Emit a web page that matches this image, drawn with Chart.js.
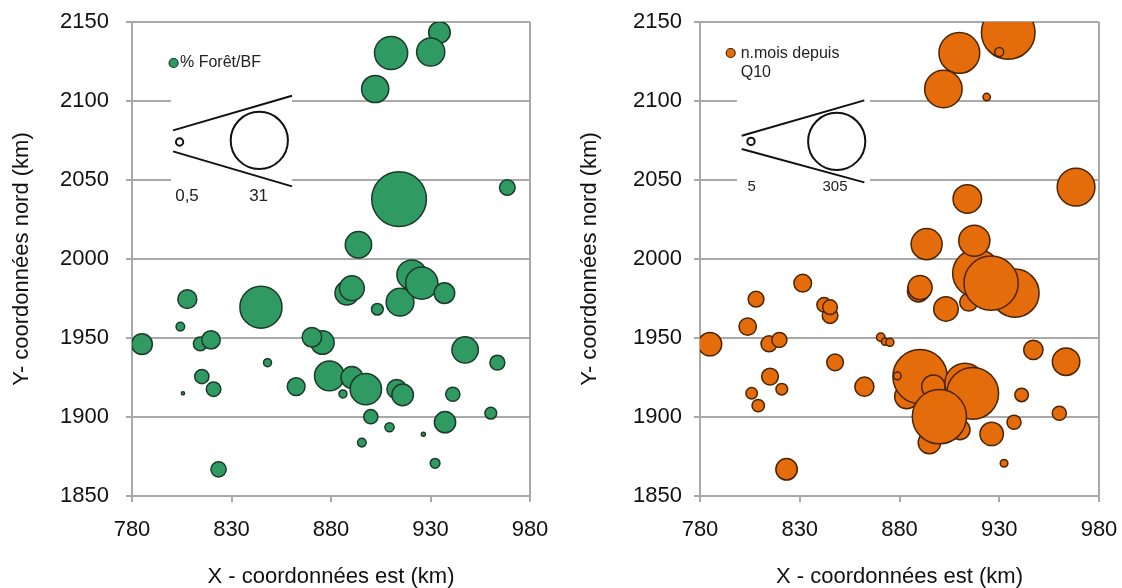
<!DOCTYPE html>
<html lang="fr">
<head>
  <meta charset="UTF-8" />
  <title>Stations : forêt et mois depuis Q10</title>
  <script src="https://cdn.jsdelivr.net/npm/chart.js"></script>
  <style>
    body {
      margin: 0;
      background: #ffffff;
      font-family: 'Liberation Sans', Arial, sans-serif;
    }
    .wrap {
      position: relative;
      width: 1122px;
      height: 588px;
    }
    canvas {
      position: absolute;
      top: 0;
    }
    #foretChart { left: 0; }
    #q10Chart { left: 561px; }
  </style>
</head>
<body>
  <div class="wrap">
    <canvas id="foretChart" width="561" height="588"></canvas>
    <canvas id="q10Chart" width="561" height="588"></canvas>
  </div>

  <script>
    // axes
    const xTicks = [780, 830, 880, 930, 980];
    const yTicks = [1850, 1900, 1950, 2000, 2050, 2100, 2150];

    // stations, % forêt du bassin (BF)
    const foretX = [934.5, 910.2, 930.1, 902.2, 914.2, 968.6, 893.8, 785, 807.8, 804.3, 814.3, 819.7, 815.1, 821, 805.6,
      823.5, 844.8, 848.1, 862.5, 875.7, 870.4, 879.2, 890.5, 897.5, 886, 888, 890.5, 900, 895.5, 903.3, 909.4,
      914.7, 920.6, 925.6, 937, 913, 916, 926.4, 932.3, 937.3, 941.2, 947.4, 963.6, 960.3];
    const foretY = [2143.4, 2130.4, 2131, 2107.6, 2037.9, 2045.2, 2009, 1946.1, 1974.6, 1957.2, 1946.3, 1948.8, 1925.6,
      1917.6, 1915, 1866.9, 1969.5, 1934.4, 1919.2, 1947.1, 1950.5, 1926, 1925, 1917.6, 1914.6, 1978.5, 1981.5,
      1900.2, 1883.8, 1968.2, 1893.5, 1972.7, 1990, 1984.7, 1978.4, 1917.6, 1914, 1889.1, 1870.7, 1896.7, 1914.4,
      1942.5, 1934.4, 1902.4];
    const foretPct = [4.4, 10.4, 7.5, 7.0, 28.3, 2.3, 6.6, 4.1, 3.4, 0.7, 1.8, 3.2, 1.9, 2.0, 0.1, 2.2, 16.8, 0.6, 3.0,
      5.2, 3.6, 8.4, 4.5, 9.3, 0.6, 5.4, 5.8, 1.9, 0.7, 1.3, 0.8, 7.3, 8.4, 9.8, 4.0, 3.6, 4.4, 0.15, 0.9, 4.3, 1.9,
      6.6, 2.1, 1.3];
    const foretKeys = [0.5, 31];
    const foretKeyText = ['0,5', '31'];

    // stations, nombre de mois depuis le Q10
    const q10X = [934.5, 930, 910, 902, 923.7, 968.5, 914, 893.6, 785, 808.1, 803.9, 814.6, 819.8, 815.1, 821, 805.9,
      809.2, 823.4, 831.5, 842.2, 845.2, 845.2, 847.7, 862.4, 870.6, 872.7, 875.2, 883.6, 890.3, 878.9, 897, 912.8,
      916.7, 895, 910.3, 900, 889.5, 890.3, 903.3, 914.7, 918.7, 937.9, 925.9, 917.5, 947.1, 963.5, 960.1, 941.2,
      937.4, 926.2, 932.4];
    const q10Y = [2143.4, 2131, 2130.4, 2107.6, 2102.5, 2045.5, 2038, 2009.4, 1946.1, 1974.6, 1957.2, 1946.3, 1948.8,
      1925.6, 1917.6, 1915, 1907.2, 1866.9, 1984.7, 1971, 1964.2, 1969.5, 1934.6, 1919.2, 1950.5, 1947.7, 1947.3,
      1912.9, 1925.6, 1926, 1919.2, 1921.4, 1915, 1883.8, 1892, 1900.2, 1979.8, 1981.9, 1968.4, 1972.7, 1991,
      1978.4, 1984.7, 2011.5, 1942.5, 1935, 1902.4, 1914, 1896.7, 1889.3, 1870.7];
    const q10Mois = [268, 7.6, 155, 131, 5.1, 133, 76, 90, 51, 23, 28, 24, 21, 26, 12.6, 12.2, 14.4, 43, 29, 19.5,
      22.8, 20, 26, 34, 6.6, 4.6, 6, 54, 274, 5.4, 51, 150, 250, 47, 37.5, 274, 45, 54, 56, 30, 216, 216, 274, 90,
      35, 70, 18.4, 17, 18.4, 51, 5.4];
    const q10Keys = [5, 305];
    const q10KeyText = ['5', '305'];

    const FONT = "'Liberation Sans', Arial, sans-serif";
    const GRID = '#a9a9a9';
    const MAX_R = 28.6;

    // bubble area proportional to the value, largest key value -> MAX_R
    function radius(v, vmax) {
      return MAX_R * Math.sqrt(v / vmax);
    }

    function points(xs, ys, vals, vmax) {
      return xs.map((x, i) => ({ x: x, y: ys[i], r: radius(vals[i], vmax) }));
    }

    // size key drawn inside the plot: series marker, cone and two reference circles
    const sizeKey = {
      id: 'sizeKey',
      afterDatasetsDraw(chart, args, o) {
        const ctx = chart.ctx;
        const L = chart.chartArea.left, T = chart.chartArea.top;
        ctx.save();

        ctx.fillStyle = '#ffffff';
        ctx.fillRect(L + o.box[0], T + o.box[1], o.box[2], o.box[3]);

        ctx.beginPath();
        ctx.arc(L + o.marker[0], T + o.marker[1], 4.5, 0, Math.PI * 2);
        ctx.fillStyle = o.fill;
        ctx.fill();
        ctx.lineWidth = 1.2;
        ctx.strokeStyle = o.edge;
        ctx.stroke();

        ctx.fillStyle = '#222';
        ctx.font = '16px ' + FONT;
        ctx.textAlign = 'left';
        ctx.textBaseline = 'middle';
        o.name.forEach((line, i) => ctx.fillText(line, L + o.nameAt[0], T + o.nameAt[1] + i * 19));

        ctx.strokeStyle = '#111';
        ctx.lineWidth = 2;
        o.cone.forEach(s => {
          ctx.beginPath();
          ctx.moveTo(L + s[0], T + s[1]);
          ctx.lineTo(L + s[2], T + s[3]);
          ctx.stroke();
        });

        const vmax = o.keys[o.keys.length - 1];
        o.keys.forEach((v, i) => {
          ctx.beginPath();
          ctx.arc(L + o.circleAt[i][0], T + o.circleAt[i][1], radius(v, vmax), 0, Math.PI * 2);
          ctx.fillStyle = '#ffffff';
          ctx.fill();
          ctx.strokeStyle = '#111';
          ctx.lineWidth = 2;
          ctx.stroke();
          ctx.fillStyle = '#222';
          ctx.font = o.keyFont + 'px ' + FONT;
          ctx.textAlign = 'center';
          ctx.fillText(o.keyText[i], L + o.labelX[i], T + o.labelY);
        });
        ctx.restore();
      }
    };

    function makeChart(id, data, fill, edge, frame, key) {
      return new Chart(document.getElementById(id), {
        type: 'bubble',
        data: {
          datasets: [{
            data: data,
            backgroundColor: fill,
            borderColor: edge,
            borderWidth: 1.5,
            clip: 0
          }]
        },
        plugins: [sizeKey],
        options: {
          responsive: false,
          animation: false,
          events: [],
          layout: {
            autoPadding: false,
            padding: { left: 0, right: frame.right, top: 22, bottom: 0 }
          },
          plugins: {
            legend: { display: false },
            tooltip: { enabled: false },
            sizeKey: Object.assign({ fill: fill, edge: edge }, key)
          },
          scales: {
            x: {
              type: 'linear',
              min: xTicks[0],
              max: xTicks[xTicks.length - 1],
              afterBuildTicks: s => { s.ticks = xTicks.map(v => ({ value: v })); },
              afterFit: s => {
                s.height = 92;
                s.paddingLeft = 0;
                s.paddingRight = 0;
              },
              grid: {
                color: c => (c.tick && c.tick.value === 980) ? GRID : 'rgba(0,0,0,0)',
                lineWidth: 2,
                tickColor: GRID,
                tickLength: 6
              },
              border: { color: GRID, width: 2 },
              ticks: {
                font: { family: FONT, size: 22 },
                color: '#111',
                padding: 15,
                maxRotation: 0,
                callback: v => String(v)
              },
              title: {
                display: true,
                text: 'X - coordonnées est (km)',
                font: { family: FONT, size: 22, lineHeight: 1 },
                color: '#111',
                padding: 0
              }
            },
            y: {
              type: 'linear',
              min: yTicks[0],
              max: yTicks[yTicks.length - 1],
              afterBuildTicks: s => { s.ticks = yTicks.map(v => ({ value: v })); },
              afterFit: s => {
                s.width = frame.yWidth;
                s.paddingTop = 0;
                s.paddingBottom = 0;
              },
              grid: { color: GRID, lineWidth: 2, tickColor: GRID, tickLength: 6 },
              border: { color: GRID, width: 2 },
              ticks: {
                font: { family: FONT, size: 22 },
                color: '#111',
                padding: frame.yLabelPad,
                callback: v => String(v)
              },
              title: {
                display: true,
                text: 'Y- coordonnées nord (km)',
                font: { family: FONT, size: 22, lineHeight: 1 },
                color: '#111',
                padding: { top: frame.yTitlePad, bottom: 0 }
              }
            }
          }
        }
      });
    }

    makeChart('foretChart',
      points(foretX, foretY, foretPct, foretKeys[1]),
      '#2f9a62', '#1b3a28',
      { right: 31, yWidth: 132, yLabelPad: 17, yTitlePad: 11 },
      {
        name: ['% Forêt/BF'],
        marker: [41.6, 41],
        nameAt: [48, 41],
        box: [39, 62, 121, 128],
        cone: [[41, 108.4, 160, 73.7], [41, 129.4, 160, 164.4]],
        keys: foretKeys,
        keyText: foretKeyText,
        circleAt: [[47.6, 120], [127.3, 118.4]],
        labelX: [55, 126.6],
        labelY: 174.4,
        keyFont: 17
      });

    makeChart('q10Chart',
      points(q10X, q10Y, q10Mois, q10Keys[1]),
      '#e46c0a', '#4a2403',
      { right: 23, yWidth: 139, yLabelPad: 12, yTitlePad: 18 },
      {
        name: ['n.mois depuis', 'Q10'],
        marker: [30.7, 31],
        nameAt: [40.7, 31.5],
        box: [37, 62, 133, 128],
        cone: [[41.7, 113.7, 164.3, 78.4], [41.7, 127, 164.3, 160.4]],
        keys: q10Keys,
        keyText: q10KeyText,
        circleAt: [[51, 119.4], [136.7, 119.4]],
        labelX: [51.7, 135],
        labelY: 164.4,
        keyFont: 15
      });
  </script>
</body>
</html>
